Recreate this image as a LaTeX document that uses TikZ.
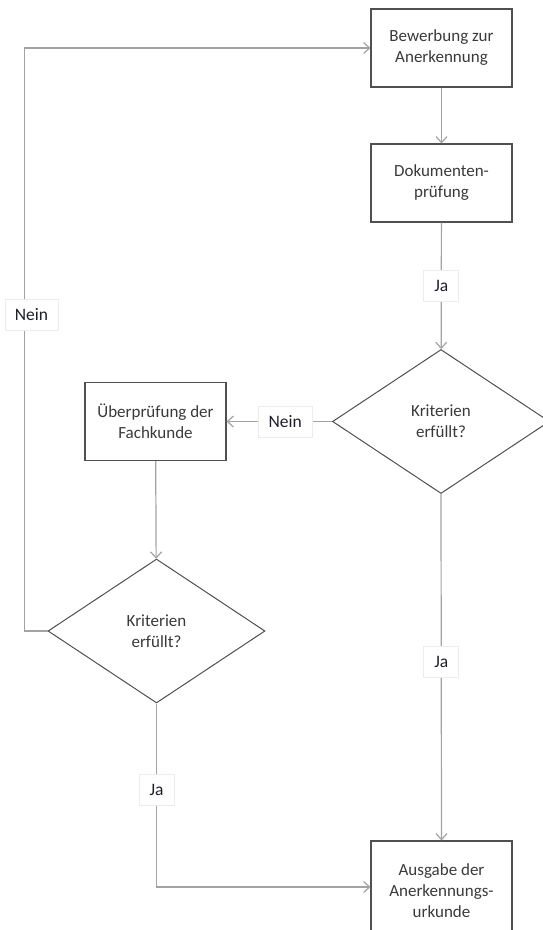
\documentclass[tikz,border=0pt]{standalone}
\usepackage{fontspec}
\setmainfont{Carlito}
\usetikzlibrary{shapes.geometric,arrows.meta}
\definecolor{boxline}{HTML}{505050}
\definecolor{wirecol}{HTML}{A3A3A3}
\definecolor{boxtext}{HTML}{3A3A3A}
\definecolor{labeltext}{HTML}{1E1E2A}
\definecolor{labelrim}{HTML}{ECECEC}
\begin{document}
\begin{tikzpicture}[x=1pt,y=-1pt,
  stepbox/.style={draw=boxline, line width=1.1pt, fill=white,
    minimum width=141pt, minimum height=78pt, inner sep=0pt,
    align=center, text=boxtext, font=\fontsize{17}{21}\selectfont},
  decision/.style={diamond, draw=boxline, line width=1pt, fill=white,
    minimum width=217pt, minimum height=144pt, inner sep=0pt,
    align=center, text=boxtext, font=\fontsize{17}{21}\selectfont},
  wire/.style={draw=wirecol, line width=1.2pt,
    -{Straight Barb[length=6pt,width=11pt]}},
  tag/.style={fill=white, draw=labelrim, line width=0.8pt, inner sep=0pt,
    minimum height=31pt, text=labeltext,
    font=\fontsize{17.5}{21}\selectfont},
]
% page area
\fill[white] (0,0) rectangle (543,930);
\useasboundingbox (0,0) rectangle (543,930);
\clip (0,0) rectangle (543,930);

% process steps and decisions
\node[stepbox] (bew) at (441.5,48) {Bewerbung zur\\Anerkennung};
\node[stepbox] (dok) at (441.5,183) {Dokumenten-\\prüfung};
\node[decision] (k1) at (441,421.5) {Kriterien\\erfüllt?};
\node[stepbox] (fach) at (155.5,421.5) {Überprüfung der\\Fachkunde};
\node[decision] (k2) at (156.5,631) {Kriterien\\erfüllt?};
\node[stepbox, minimum height=100pt] (urk) at (441.5,891)
  {Ausgabe der\\Anerkennungs-\\urkunde};

% return path back to the application
\coordinate (loop) at (24.5,48);

% connectors
\draw[wire] (bew) -- (dok);
\draw[wire] (dok) -- node[tag, minimum width=35pt] (ja1) {Ja} (k1);
\draw[wire] (k1.west) -- node[tag, pos=0.443, minimum width=54pt] (nein1) {Nein} (fach.east);
\draw[wire] (fach) -- (k2);
\draw[wire] (k1.south) -- node[tag, pos=0.484, minimum width=35pt] (ja2) {Ja} (urk.north);
\draw[wire] (k2.south) |- node[tag, pos=0.236, minimum width=35pt] (ja3) {Ja} ([yshift=4pt]urk.west);
\draw[wire] (k2.west) -| node[tag, pos=0.771, xshift=7pt, minimum width=53pt] (nein2) {Nein} (loop) -- (bew.west);
\end{tikzpicture}
\end{document}
